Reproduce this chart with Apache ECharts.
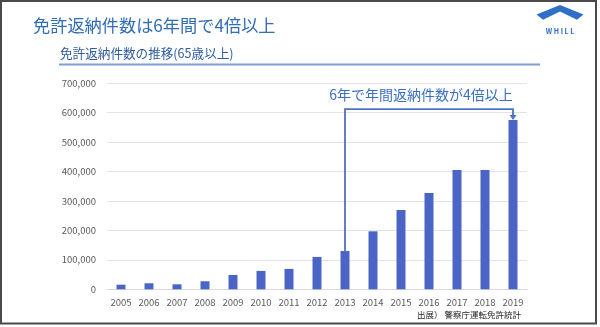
<!DOCTYPE html>
<html>
<head>
<meta charset="utf-8">
<script src="https://cdn.jsdelivr.net/npm/echarts@6/dist/echarts.min.js"></script>
<style>
html,body{margin:0;padding:0;background:#fff;}
#c{width:600px;height:327px;}
</style>
</head>
<body>
<div id="c"></div>
<script>
const years = ['2005','2006','2007','2008','2009','2010','2011','2012','2013','2014','2015','2016','2017','2018','2019'];
const returns = [15700, 20500, 17000, 27300, 48800, 62500, 69300, 110000, 130000, 197000, 269500, 327000, 405000, 405000, 575000];
const yTicks = { min: 0, max: 700000, interval: 100000 };
const titleText = '免許返納件数は6年間で4倍以上';
const subtitleText = '免許返納件数の推移(65歳以上)';
const noteText = '6年で年間返納件数が4倍以上';
const sourceText = '出展） 警察庁運転免許統計';
const fromYear = '2013', toYear = '2019';

const FONT = '"Noto Sans CJK JP", "Noto Sans", sans-serif';
const chart = echarts.init(document.getElementById('c'), null, {renderer: 'canvas'});

chart.setOption({
  animation: false,
  backgroundColor: '#fff',
  grid: { left: 107, right: 73, top: 83.3, bottom: 37.7 },
  xAxis: {
    type: 'category',
    data: years,
    axisLine: { lineStyle: { color: '#D9D9D9', width: 1 } },
    axisTick: { show: false },
    axisLabel: { color: '#595959', fontSize: 9.5, fontFamily: FONT, margin: 8 }
  },
  yAxis: {
    type: 'value',
    min: yTicks.min, max: yTicks.max, interval: yTicks.interval,
    axisLine: { show: false },
    axisTick: { show: false },
    splitLine: { lineStyle: { color: '#E3E3E3', width: 1 } },
    axisLabel: {
      color: '#595959', fontSize: 9.5, fontFamily: FONT, margin: 11,
      formatter: v => v === 0 ? '0' : v.toLocaleString('en-US')
    }
  },
  series: [{
    type: 'bar',
    data: returns,
    barWidth: 9,
    itemStyle: { color: '#4A65C6' }
  }]
});

const iFrom = years.indexOf(fromYear), iTo = years.indexOf(toYear);
const pFrom = chart.convertToPixel({gridIndex: 0}, [iFrom, returns[iFrom]]);
const pTo = chart.convertToPixel({gridIndex: 0}, [iTo, returns[iTo]]);
const bracketY = pTo[1] - 11;
const lineColor = '#4F72C4';

chart.setOption({
  graphic: [
    { type: 'rect', shape: { x: 1, y: 1, width: 595, height: 322.5 },
      style: { fill: 'none', stroke: '#4a4a4a', lineWidth: 2 }, z: 100 },
    { type: 'text', left: 33, top: 17,
      style: { text: titleText, fill: '#2F6DB5', font: '17.2px ' + FONT } },
    { type: 'text', left: 60, top: 46.5,
      style: { text: subtitleText, fill: '#2E5D9E', font: '12.6px ' + FONT } },
    { type: 'line', shape: { x1: 59, y1: 64.5, x2: 540, y2: 64.5 },
      style: { stroke: '#7F9CD3', lineWidth: 2 } },
    { type: 'polygon', shape: { points: [[536.5,14.5],[560,5],[583.5,14.5],[577,19.8],[560,11.5],[543,19.8]] },
      style: { fill: '#2F6FC5' } },
    { type: 'text', x: 560, y: 31,
      style: { text: 'W H I L L', fill: '#2F6FC5', font: 'bold 7px ' + FONT, align: 'center', verticalAlign: 'middle' } },
    { type: 'polyline', shape: { points: [[pFrom[0], pFrom[1]], [pFrom[0], bracketY], [pTo[0], bracketY], [pTo[0], pTo[1] - 4]] },
      style: { stroke: lineColor, lineWidth: 1.8, fill: 'none' }, z: 10 },
    { type: 'polygon', shape: { points: [[pTo[0] - 3.5, pTo[1] - 5], [pTo[0] + 3.5, pTo[1] - 5], [pTo[0], pTo[1]]] },
      style: { fill: lineColor }, z: 10 },
    { type: 'text', x: (pFrom[0] + pTo[0]) / 2 - 8, y: bracketY - 14,
      style: { text: noteText, fill: '#3A6FC4', font: '14px ' + FONT, align: 'center', verticalAlign: 'middle' } },
    { type: 'text', x: 521, y: 314.5,
      style: { text: sourceText, fill: '#262626', font: '8.5px ' + FONT, align: 'right', verticalAlign: 'middle' } }
  ]
});
</script>
</body>
</html>
